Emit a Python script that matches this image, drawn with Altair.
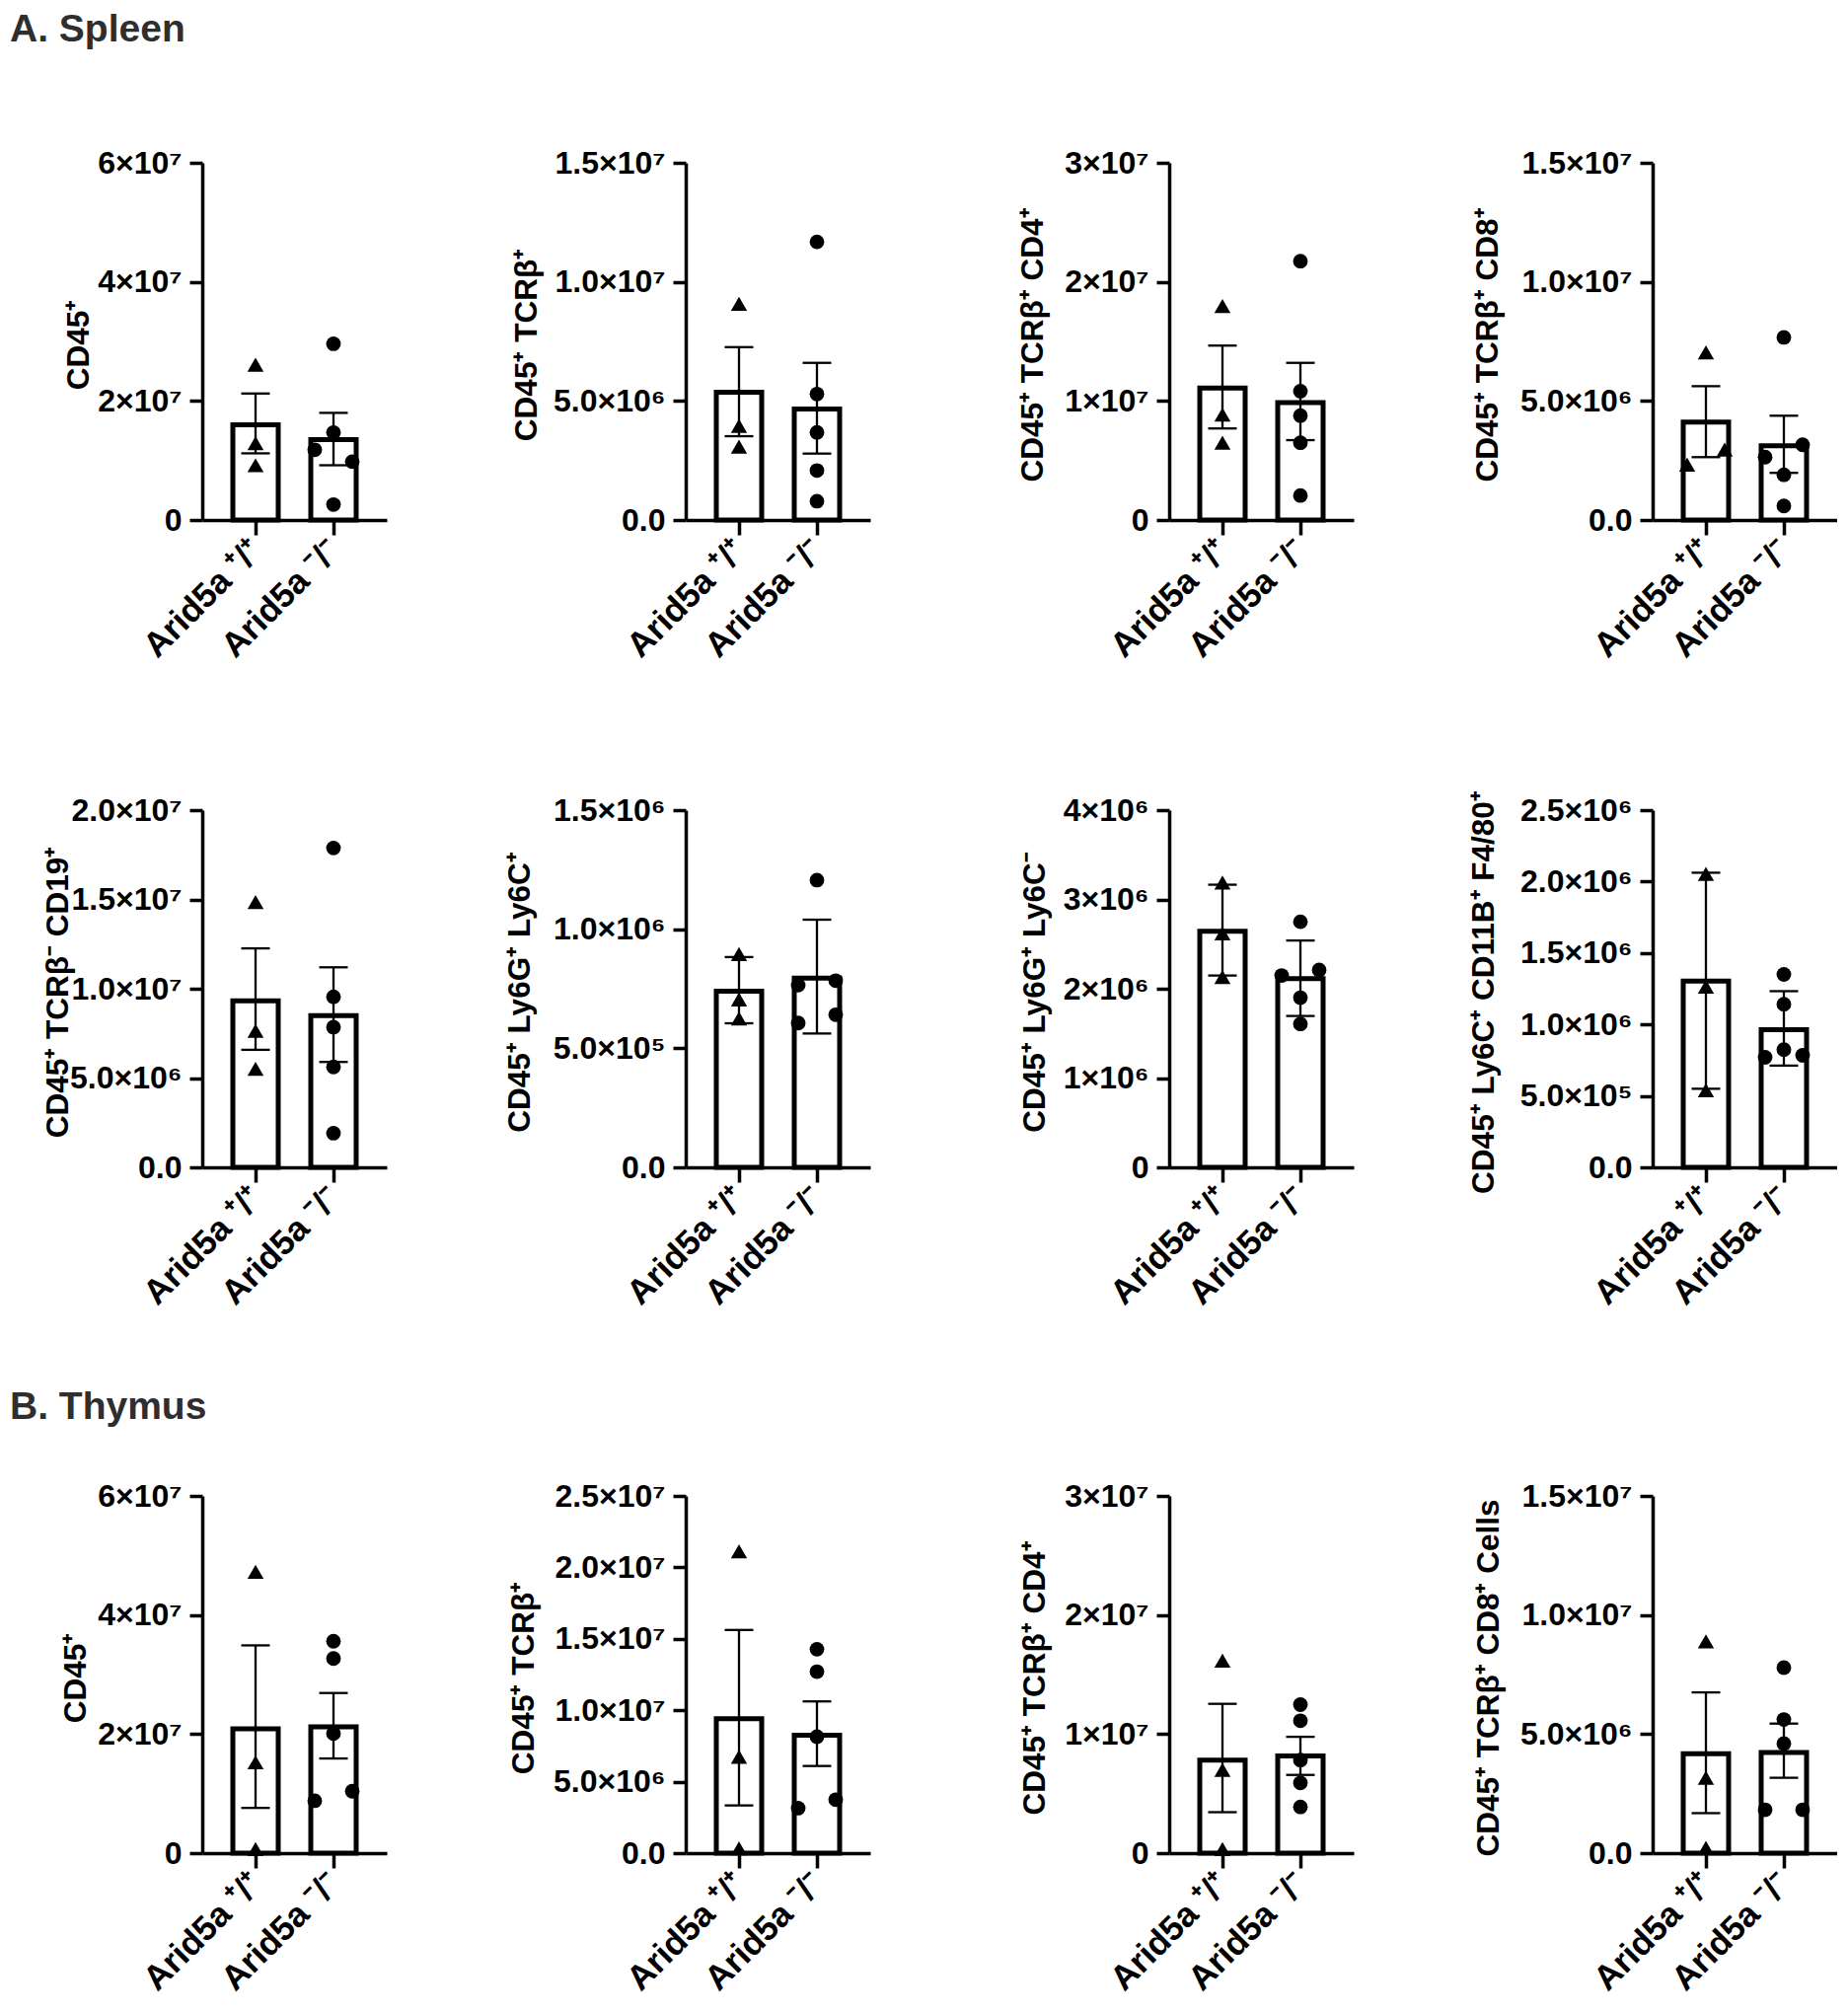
import altair as alt
import pandas as pd

# ---------------- data ----------------
SECTION_TITLES = ["A. Spleen", "B. Thymus"]
GROUPS = ["Arid5a ⁺/⁺", "Arid5a ⁻/⁻"]
GROUP_POS = [1, 2]
GROUP_SHAPES = ["triangle-up", "circle"]

Y_TITLES = [
    "CD45⁺", "CD45⁺ TCRβ⁺", "CD45⁺ TCRβ⁺ CD4⁺", "CD45⁺ TCRβ⁺ CD8⁺",
    "CD45⁺ TCRβ⁻ CD19⁺", "CD45⁺ Ly6G⁺ Ly6C⁺", "CD45⁺ Ly6G⁺ Ly6C⁻", "CD45⁺ Ly6C⁺ CD11B⁺ F4/80⁺",
    "CD45⁺", "CD45⁺ TCRβ⁺", "CD45⁺ TCRβ⁺ CD4⁺", "CD45⁺ TCRβ⁺ CD8⁺ Cells",
]

Y_TICKS = [
    [0, 2e7, 4e7, 6e7],
    [0, 5e6, 1e7, 1.5e7],
    [0, 1e7, 2e7, 3e7],
    [0, 5e6, 1e7, 1.5e7],
    [0, 5e6, 1e7, 1.5e7, 2e7],
    [0, 5e5, 1e6, 1.5e6],
    [0, 1e6, 2e6, 3e6, 4e6],
    [0, 5e5, 1e6, 1.5e6, 2e6, 2.5e6],
    [0, 2e7, 4e7, 6e7],
    [0, 5e6, 1e7, 1.5e7, 2e7, 2.5e7],
    [0, 1e7, 2e7, 3e7],
    [0, 5e6, 1e7, 1.5e7],
]
Y_TICK_LABELS = [
    ["0", "2×10⁷", "4×10⁷", "6×10⁷"],
    ["0.0", "5.0×10⁶", "1.0×10⁷", "1.5×10⁷"],
    ["0", "1×10⁷", "2×10⁷", "3×10⁷"],
    ["0.0", "5.0×10⁶", "1.0×10⁷", "1.5×10⁷"],
    ["0.0", "5.0×10⁶", "1.0×10⁷", "1.5×10⁷", "2.0×10⁷"],
    ["0.0", "5.0×10⁵", "1.0×10⁶", "1.5×10⁶"],
    ["0", "1×10⁶", "2×10⁶", "3×10⁶", "4×10⁶"],
    ["0.0", "5.0×10⁵", "1.0×10⁶", "1.5×10⁶", "2.0×10⁶", "2.5×10⁶"],
    ["0", "2×10⁷", "4×10⁷", "6×10⁷"],
    ["0.0", "5.0×10⁶", "1.0×10⁷", "1.5×10⁷", "2.0×10⁷", "2.5×10⁷"],
    ["0", "1×10⁷", "2×10⁷", "3×10⁷"],
    ["0.0", "5.0×10⁶", "1.0×10⁷", "1.5×10⁷"],
]

BAR_MEAN = [
    [1.60e7, 1.35e7],
    [5.37e6, 4.66e6],
    [1.108e7, 0.987e7],
    [4.11e6, 3.12e6],
    [9.33e6, 8.49e6],
    [7.40e5, 7.95e5],
    [2.644e6, 2.114e6],
    [1.304e6, 0.964e6],
    [2.088e7, 2.12e7],
    [9.41e6, 8.26e6],
    [0.782e7, 0.816e7],
    [4.175e6, 4.226e6],
]
ERR_LOW = [
    [1.12e7, 0.92e7],
    [3.52e6, 2.79e6],
    [0.769e7, 0.671e7],
    [2.64e6, 1.98e6],
    [6.58e6, 5.90e6],
    [6.05e5, 5.62e5],
    [2.148e6, 1.695e6],
    [0.55e6, 0.712e6],
    [0.76e7, 1.59e7],
    [3.34e6, 6.10e6],
    [0.344e7, 0.657e7],
    [1.68e6, 3.165e6],
]
ERR_HIGH = [
    [2.125e7, 1.80e7],
    [7.26e6, 6.60e6],
    [1.465e7, 1.32e7],
    [5.62e6, 4.38e6],
    [12.26e6, 11.2e6],
    [8.83e5, 10.40e5],
    [3.165e6, 2.54e6],
    [2.062e6, 1.233e6],
    [3.49e7, 2.69e7],
    [15.62e6, 10.62e6],
    [1.254e7, 0.977e7],
    [6.75e6, 5.44e6],
]

WT_POINTS = [
    [2.61e7, 1.29e7, 0.92e7],
    [9.08e6, 3.95e6, 3.08e6],
    [1.797e7, 0.886e7, 0.649e7],
    [7.04e6, 2.33e6, 2.96e6],
    [14.85e6, 7.64e6, 5.52e6],
    [8.96e5, 7.05e5, 6.25e5],
    [3.19e6, 2.62e6, 2.13e6],
    [2.054e6, 1.265e6, 0.539e6],
    [4.725e7, 1.525e7, 0.068e7],
    [21.12e6, 6.74e6, 0.34e6],
    [1.618e7, 0.70e7, 0.034e7],
    [8.89e6, 3.165e6, 0.22e6],
]
WT_SLOTS = [
    [0, 0, 0], [0, 0, 0], [0, 0, 0], [0, -1, 1],
    [0, 0, 0], [0, 0, 0], [0, 0, 0], [0, 0, 0],
    [0, 0, 0], [0, 0, 0], [0, 0, 0], [0, 0, 0],
]
KO_POINTS = [
    [2.96e7, 1.47e7, 1.18e7, 0.98e7, 0.26e7],
    [11.68e6, 5.29e6, 3.68e6, 2.08e6, 0.79e6],
    [2.174e7, 1.082e7, 0.877e7, 0.649e7, 0.206e7],
    [7.67e6, 3.16e6, 2.64e6, 1.90e6, 0.59e6],
    [17.88e6, 9.55e6, 7.85e6, 5.62e6, 1.91e6],
    [12.06e5, 7.84e5, 7.65e5, 6.41e5, 6.06e5],
    [2.75e6, 2.21e6, 2.148e6, 1.90e6, 1.606e6],
    [1.35e6, 1.142e6, 0.824e6, 0.770e6, 0.784e6],
    [3.56e7, 3.27e7, 2.01e7, 1.04e7, 0.88e7],
    [14.27e6, 12.70e6, 8.15e6, 3.74e6, 3.15e6],
    [1.247e7, 1.112e7, 0.782e7, 0.590e7, 0.388e7],
    [7.79e6, 5.61e6, 4.60e6, 1.82e6, 1.82e6],
]
KO_SLOTS = [
    [0, 0, -1, 1, 0],
    [0, 0, 0, 0, 0],
    [0, 0, 0, 0, 0],
    [0, 1, -1, 0, 0],
    [0, 0, 0, 0, 0],
    [0, 1, -1, 1, -1],
    [0, 1, -1, 0, 0],
    [0, 0, 0, -1, 1],
    [0, 0, 0, 1, -1],
    [0, 0, 0, 1, -1],
    [0, 0, 0, 0, 0],
    [0, 0, 0, -1, 1],
]

# ---------------- layout / style ----------------
FONT = "Liberation Sans"
PLOT_W = 187
PLOT_H = 362
ROW3_SHIFT = 39
COL_GAP = 303
ROW_GAP = 294
STEP_PX = 79.0          # distance between the two group centres
FIRST_CENTER_PX = 54.0  # first group centre from the y axis
BAR_PX = 46.0           # bar width
JITTER_PX = 19.0
X_DOMAIN = [1 - FIRST_CENTER_PX / STEP_PX, 1 + (PLOT_W - FIRST_CENTER_PX) / STEP_PX]
HALF_BAR = BAR_PX / 2 / STEP_PX
JITTER = JITTER_PX / STEP_PX
TITLE_X = [-125, -161, -138, -167, -146, -168, -136, -171, -128, -164, -136, -166]


def label_expr(vals, labels):
    expr = "''"
    for v, l in reversed(list(zip(vals, labels))):
        expr = f"abs(datum.value - {float(v)!r}) < 1e-6 * {max(vals)!r} ? '{l}' : {expr}"
    return expr


X_LABEL_EXPR = label_expr(GROUP_POS, GROUPS)

panels = []
for i in range(12):
    row = i // 4
    shift = ROW3_SHIFT if row == 2 else 0
    h = PLOT_H + shift

    bars_df = pd.DataFrame({
        "pos": GROUP_POS,
        "mean": BAR_MEAN[i],
        "lo": ERR_LOW[i],
        "hi": ERR_HIGH[i],
    })
    pts_df = pd.DataFrame({
        "pos": [GROUP_POS[0]] * len(WT_POINTS[i]) + [GROUP_POS[1]] * len(KO_POINTS[i]),
        "group": [GROUPS[0]] * len(WT_POINTS[i]) + [GROUPS[1]] * len(KO_POINTS[i]),
        "value": WT_POINTS[i] + KO_POINTS[i],
        "slot": WT_SLOTS[i] + KO_SLOTS[i],
    })

    x_scale = alt.Scale(domain=X_DOMAIN, nice=False, zero=False)
    x_axis = alt.Axis(
        title=None, values=GROUP_POS, labelExpr=X_LABEL_EXPR,
        labelAngle=-45, labelAlign="right", labelBaseline="middle",
        labelPadding=10, labelFontSize=35, labelLimit=600, tickSize=15, tickWidth=3.5,
        domainWidth=3.5, labelFont=FONT, labelFontWeight="bold", labelColor="black",
        tickColor="black", domainColor="black", grid=False, labelFlush=False,
        labelOverlap=False,
    )
    y_scale = alt.Scale(domain=[0, Y_TICKS[i][-1]], range=[h, shift], nice=False, zero=False)
    y_axis = alt.Axis(
        values=Y_TICKS[i], labelExpr=label_expr(Y_TICKS[i], Y_TICK_LABELS[i]),
        title=Y_TITLES[i], titleX=TITLE_X[i], titleY=shift + PLOT_H / 2 + 3,
        titleBaseline="middle", titleFontSize=31.5, titleFont=FONT, titleFontWeight="bold",
        titleColor="black", labelFontSize=32, labelFont=FONT, labelFontWeight="bold",
        labelColor="black", labelPadding=8, labelLimit=400, labelOverlap=False,
        labelFlush=False, tickSize=13, tickWidth=3.5, domainWidth=3.5,
        tickColor="black", domainColor="black", grid=False,
    )

    def X(f):
        return alt.X(f, scale=x_scale, axis=x_axis)

    def Y(f):
        return alt.Y(f, scale=y_scale, axis=y_axis)

    bar = alt.Chart(bars_df).transform_calculate(
        x_left=f"datum.pos - {HALF_BAR}", x_right=f"datum.pos + {HALF_BAR}", base="0"
    ).mark_rect(
        fill="white", stroke="black", strokeWidth=5, opacity=1
    ).encode(x=X("x_left:Q"), x2="x_right:Q", y=Y("mean:Q"), y2="base:Q")
    rule = alt.Chart(bars_df).mark_rule(color="black", strokeWidth=2.3, opacity=1).encode(
        x=X("pos:Q"), y=Y("lo:Q"), y2="hi:Q"
    )
    cap_lo = alt.Chart(bars_df).mark_tick(
        orient="horizontal", color="black", size=29, thickness=2.3, opacity=1
    ).encode(x=X("pos:Q"), y=Y("lo:Q"))
    cap_hi = alt.Chart(bars_df).mark_tick(
        orient="horizontal", color="black", size=29, thickness=2.3, opacity=1
    ).encode(x=X("pos:Q"), y=Y("hi:Q"))
    points = alt.Chart(pts_df).transform_calculate(
        xp=f"datum.pos + datum.slot * {JITTER}"
    ).mark_point(
        filled=True, opacity=1, color="black", strokeWidth=0
    ).encode(
        x=X("xp:Q"),
        y=Y("value:Q"),
        shape=alt.Shape("group:N", scale=alt.Scale(domain=GROUPS, range=GROUP_SHAPES), legend=None),
        size=alt.Size("group:N", scale=alt.Scale(domain=GROUPS, range=[270, 220]), legend=None),
    )

    layer = alt.layer(bar, rule, cap_lo, cap_hi, points).properties(width=PLOT_W, height=h)
    if i == 0:
        layer = layer.properties(title=alt.TitleParams(
            SECTION_TITLES[0], anchor="start", frame="group", orient="top", dx=-195,
            offset=68, baseline="alphabetic", fontSize=39, font=FONT,
            fontWeight="bold", color="#2e2e2e",
        ))
    if i == 8:
        layer = layer.properties(title=alt.TitleParams(
            SECTION_TITLES[1], anchor="start", frame="group", orient="top", dx=-195,
            offset=0, baseline="alphabetic", fontSize=39, font=FONT,
            fontWeight="bold", color="#2e2e2e",
        ))
    panels.append(layer)

chart = alt.concat(*panels, columns=4).properties(
    bounds="flush",
    spacing={"row": ROW_GAP, "column": COL_GAP},
    padding={"left": 2, "top": 3, "right": 0, "bottom": 0},
).configure_view(strokeWidth=0).configure_axis(grid=False)

chart.save("out.html", embed_options={"renderer": "svg", "actions": False})
